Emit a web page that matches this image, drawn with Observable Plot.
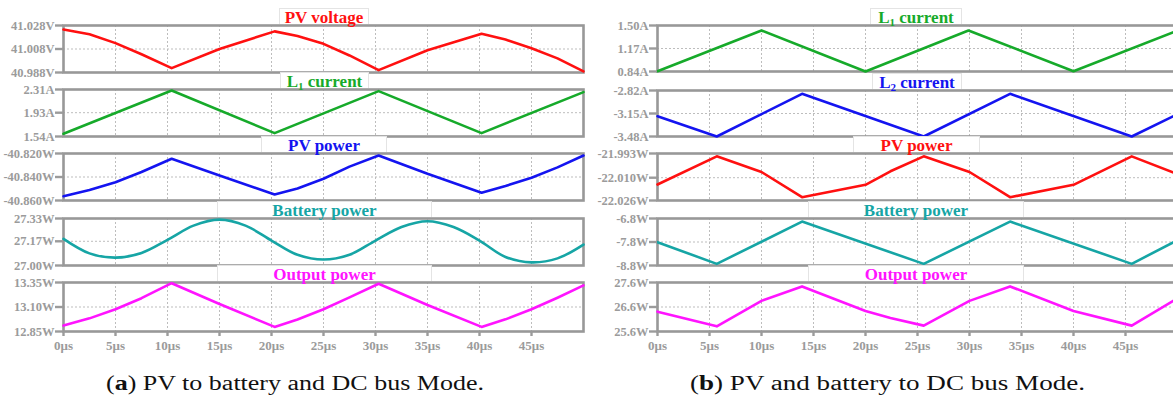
<!DOCTYPE html>
<html>
<head>
<meta charset="utf-8">
<script src="https://cdn.jsdelivr.net/npm/d3@7"></script>
<script src="https://cdn.jsdelivr.net/npm/@observablehq/plot@0.6"></script>
<style>
  html, body { margin: 0; padding: 0; background: #fff; }
  #root { position: relative; width: 1173px; height: 403px; overflow: hidden; background: #fff; }
  .sub { position: absolute; }
  .ttl { position: absolute; height: 16px; background: #fff; border: 1px solid #e4e4e4; border-bottom: none;
         box-sizing: border-box; text-align: center; font-family: "Liberation Serif", serif; font-weight: bold;
         font-size: 17px; line-height: 17px; white-space: nowrap; }
  .ttl .s { font-size: 11px; position: relative; top: 3px; }
  .cap { position: absolute; top: 371px; font-family: "Liberation Serif", serif; font-size: 20px; line-height: 24px;
         color: #111; white-space: nowrap; transform-origin: 0 0; }
</style>
</head>
<body>
<div id="root"></div>
<script>
// ---------- shared time axis ----------
const timeTicks = [0, 5, 10, 15, 20, 25, 30, 35, 40, 45];
const timeTickLabels = ["0μs", "5μs", "10μs", "15μs", "20μs", "25μs", "30μs", "35μs", "40μs", "45μs"];

// ---------- panel (a): PV to battery and DC bus ----------
const aPvVoltageT = [0, 2.5, 5, 7.5, 10.4, 15, 20.3, 22.5, 25, 27.5, 30.3, 35, 40.2, 42.5, 45, 47.5, 50];
const aPvVoltage  = [41.0246, 41.0205, 41.013, 41.0035, 40.9917, 41.008, 41.023, 41.019, 41.0124, 41.0025, 40.990, 41.007, 41.021, 41.016, 41.0087, 41.0, 40.989];
const aPvVoltageTicks = [40.988, 41.008, 41.028];
const aPvVoltageLabels = ["40.988V", "41.008V", "41.028V"];

const aL1T = [0, 10.4, 20.3, 30.3, 40.2, 50];
const aL1  = [1.585, 2.294, 1.596, 2.283, 1.596, 2.267];
const aL1Ticks = [1.54, 1.93, 2.31];
const aL1Labels = ["1.54A", "1.93A", "2.31A"];

const aPvPowerT = [0, 2.5, 5, 7.5, 10.4, 15, 20.3, 22.5, 25, 27.5, 30.3, 35, 40.2, 42.5, 45, 47.5, 50];
const aPvPower  = [-40.8563, -40.8511, -40.8444, -40.8357, -40.8245, -40.8387, -40.8549, -40.8498, -40.8415, -40.8312, -40.8217, -40.8373, -40.8534, -40.8476, -40.8407, -40.8318, -40.8217];
const aPvPowerTicks = [-40.860, -40.840, -40.820];
const aPvPowerLabels = ["-40.860W", "-40.840W", "-40.820W"];

const aBatteryT = [0, 2.5, 5, 7.5, 10, 12.5, 15, 17.5, 20, 22.5, 25, 27.5, 30, 32.5, 35, 37.5, 40, 42.5, 45, 47.5, 50];
const aBattery  = [27.187, 27.085, 27.055, 27.088, 27.18, 27.28, 27.322, 27.28, 27.175, 27.075, 27.042, 27.075, 27.175, 27.27, 27.311, 27.27, 27.175, 27.06, 27.022, 27.05, 27.147];
const aBatteryTicks = [27.00, 27.17, 27.33];
const aBatteryLabels = ["27.00W", "27.17W", "27.33W"];

const aOutputT = [0, 2.5, 5, 7.5, 10.4, 15, 20.3, 22.5, 25, 27.5, 30.3, 35, 40.2, 42.5, 45, 47.5, 50];
const aOutput  = [12.91, 12.984, 13.077, 13.19, 13.343, 13.13, 12.897, 12.973, 13.077, 13.198, 13.337, 13.12, 12.897, 12.974, 13.077, 13.195, 13.32];
const aOutputTicks = [12.85, 13.10, 13.35];
const aOutputLabels = ["12.85W", "13.10W", "13.35W"];

// ---------- panel (b): PV and battery to DC bus ----------
const bL1T = [0, 10, 20, 29.9, 40, 50];
const bL1  = [0.844, 1.428, 0.84, 1.428, 0.844, 1.425];
const bL1Ticks = [0.84, 1.17, 1.50];
const bL1Labels = ["0.84A", "1.17A", "1.50A"];

const bL2T = [0, 5.7, 13.9, 25.6, 33.9, 45.6, 50];
const bL2  = [-3.189, -3.48, -2.868, -3.48, -2.868, -3.48, -3.16];
const bL2Ticks = [-3.48, -3.15, -2.82];
const bL2Labels = ["-3.48A", "-3.15A", "-2.82A"];

const bPvPowerT = [0, 5.7, 10, 13.9, 20, 22.4, 25.6, 30, 33.9, 40, 45.6, 50];
const bPvPower  = [-22.0148, -21.995, -22.006, -22.0237, -22.015, -22.0055, -21.995, -22.006, -22.0237, -22.015, -21.995, -22.0075];
const bPvPowerTicks = [-22.026, -22.010, -21.993];
const bPvPowerLabels = ["-22.026W", "-22.010W", "-21.993W"];

const bBatteryT = [0, 5.7, 13.9, 25.6, 33.9, 45.6, 50];
const bBattery  = [-7.808, -8.73, -6.93, -8.73, -6.93, -8.73, -7.72];
const bBatteryTicks = [-8.8, -7.8, -6.8];
const bBatteryLabels = ["-8.8W", "-7.8W", "-6.8W"];

const bOutputT = [0, 5.7, 10, 13.9, 20, 22.4, 25.6, 30, 33.9, 40, 45.6, 50];
const bOutput  = [26.41, 25.81, 26.85, 27.44, 26.44, 26.15, 25.84, 26.85, 27.44, 26.44, 25.84, 26.95];
const bOutputTicks = [25.6, 26.6, 27.6];
const bOutputLabels = ["25.6W", "26.6W", "27.6W"];

// ---------- text ----------
const captionA = ["(", "a", ") PV to battery and DC bus Mode."];
const captionB = ["(", "b", ") PV and battery to DC bus Mode."];

// ---------- styles / layout ----------
const RED = "#ff1010", GREEN = "#16aa2a", BLUE = "#1414f0", TEAL = "#16a5a5", MAGENTA = "#ff14ff";
const AXIS_GRAY = "#9b9b9b", FRAME_GRAY = "#989898", GRID_GRAY = "#bdbdbd";
const FONT = "'Liberation Serif', 'Times New Roman', serif";

const panels = [
  { left: 0, width: 590, ml: 63, mr: 7, captionX: 295, caption: captionA, rows: [
    { title: "PV voltage", t: aPvVoltageT, v: aPvVoltage, ticks: aPvVoltageTicks, labels: aPvVoltageLabels, color: RED, top: 25, bottom: 72, box: [279, 369] },
    { title: "L<span class='s'>1</span> current", t: aL1T, v: aL1, ticks: aL1Ticks, labels: aL1Labels, color: GREEN, top: 89, bottom: 136, box: [280, 369] },
    { title: "PV power", t: aPvPowerT, v: aPvPower, ticks: aPvPowerTicks, labels: aPvPowerLabels, color: BLUE, top: 153, bottom: 200, box: [261, 387] },
    { title: "Battery power", t: aBatteryT, v: aBattery, ticks: aBatteryTicks, labels: aBatteryLabels, color: TEAL, top: 218, bottom: 265, box: [217, 432], curve: "catmull-rom" },
    { title: "Output power", t: aOutputT, v: aOutput, ticks: aOutputTicks, labels: aOutputLabels, color: MAGENTA, top: 282, bottom: 331, box: [217, 432] }
  ]},
  { left: 590, width: 590, ml: 67, mr: 3, captionX: 887, caption: captionB, rows: [
    { title: "L<span class='s'>1</span> current", t: bL1T, v: bL1, ticks: bL1Ticks, labels: bL1Labels, color: GREEN, top: 25, bottom: 71, box: [870, 962] },
    { title: "L<span class='s'>2</span> current", t: bL2T, v: bL2, ticks: bL2Ticks, labels: bL2Labels, color: BLUE, top: 90, bottom: 136, box: [872, 962] },
    { title: "PV power", t: bPvPowerT, v: bPvPower, ticks: bPvPowerTicks, labels: bPvPowerLabels, color: RED, top: 153, bottom: 200, box: [853, 980] },
    { title: "Battery power", t: bBatteryT, v: bBattery, ticks: bBatteryTicks, labels: bBatteryLabels, color: TEAL, top: 218, bottom: 265, box: [808, 1024] },
    { title: "Output power", t: bOutputT, v: bOutput, ticks: bOutputTicks, labels: bOutputLabels, color: MAGENTA, top: 282, bottom: 331, box: [808, 1024] }
  ]}
];

const root = document.getElementById("root");
const MT = 5, MB = 5, MB_BOTTOM = 26;

panels.forEach(p => {
  p.rows.forEach((r, idx) => {
    const isBottom = idx === p.rows.length - 1;
    const mb = isBottom ? MB_BOTTOM : MB;
    const data = r.t.map((t, i) => ({ t, v: r.v[i] }));
    const marks = [
      Plot.gridX(timeTicks, { stroke: GRID_GRAY, strokeOpacity: 1, strokeWidth: 1, strokeDasharray: "2,2" }),
      Plot.gridY([r.ticks[1]], { stroke: GRID_GRAY, strokeOpacity: 1, strokeWidth: 1, strokeDasharray: "2,2" }),
      Plot.frame({ stroke: FRAME_GRAY, strokeWidth: 2.6 }),
      Plot.line(data, { x: "t", y: "v", stroke: r.color, strokeWidth: 2.6, curve: r.curve || "linear" }),
      Plot.axisY(r.ticks, {
        label: null,
        tickSize: 8, tickPadding: 1, tickFormat: d => r.labels[r.ticks.indexOf(d)],
        stroke: AXIS_GRAY, strokeWidth: 2.4, fill: AXIS_GRAY,
        fontSize: 12.5, fontWeight: "bold", fontFamily: FONT
      })
    ];
    if (isBottom) {
      marks.push(Plot.axisX(timeTicks, {
        label: null,
        tickSize: 5, tickPadding: 4, tickFormat: d => timeTickLabels[timeTicks.indexOf(d)],
        stroke: AXIS_GRAY, strokeWidth: 2.4, fill: AXIS_GRAY,
        fontSize: 13, fontWeight: "bold", fontFamily: FONT
      }));
    }
    const chart = Plot.plot({
      width: p.width,
      height: (r.bottom - r.top) + MT + mb,
      marginLeft: p.ml, marginRight: p.mr, marginTop: MT, marginBottom: mb,
      x: { domain: [0, 50], axis: null, label: null },
      y: { domain: [r.ticks[0], r.ticks[2]], axis: null, label: null },
      style: { background: "transparent", overflow: "visible", fontFamily: FONT, fontWeight: "bold", fontSize: "12.5px", color: AXIS_GRAY },
      marks
    });
    chart.classList.add("sub");
    chart.style.left = p.left + "px";
    chart.style.top = (r.top - MT) + "px";
    root.appendChild(chart);

    const box = document.createElement("div");
    box.className = "ttl";
    box.style.left = r.box[0] + "px";
    box.style.width = (r.box[1] - r.box[0]) + "px";
    box.style.top = (r.top - 17) + "px";
    box.style.color = r.color;
    box.innerHTML = r.title;
    root.appendChild(box);
  });

  const cap = document.createElement("div");
  cap.className = "cap";
  cap.innerHTML = p.caption[0] + "<b>" + p.caption[1] + "</b>" + p.caption[2];
  root.appendChild(cap);
  const targetW = p === panels[0] ? 378 : 395;
  const w = cap.getBoundingClientRect().width;
  const k = targetW / w;
  cap.style.left = (p.captionX - targetW / 2) + "px";
  cap.style.transform = "scaleX(" + k + ")";
});
</script>
</body>
</html>
